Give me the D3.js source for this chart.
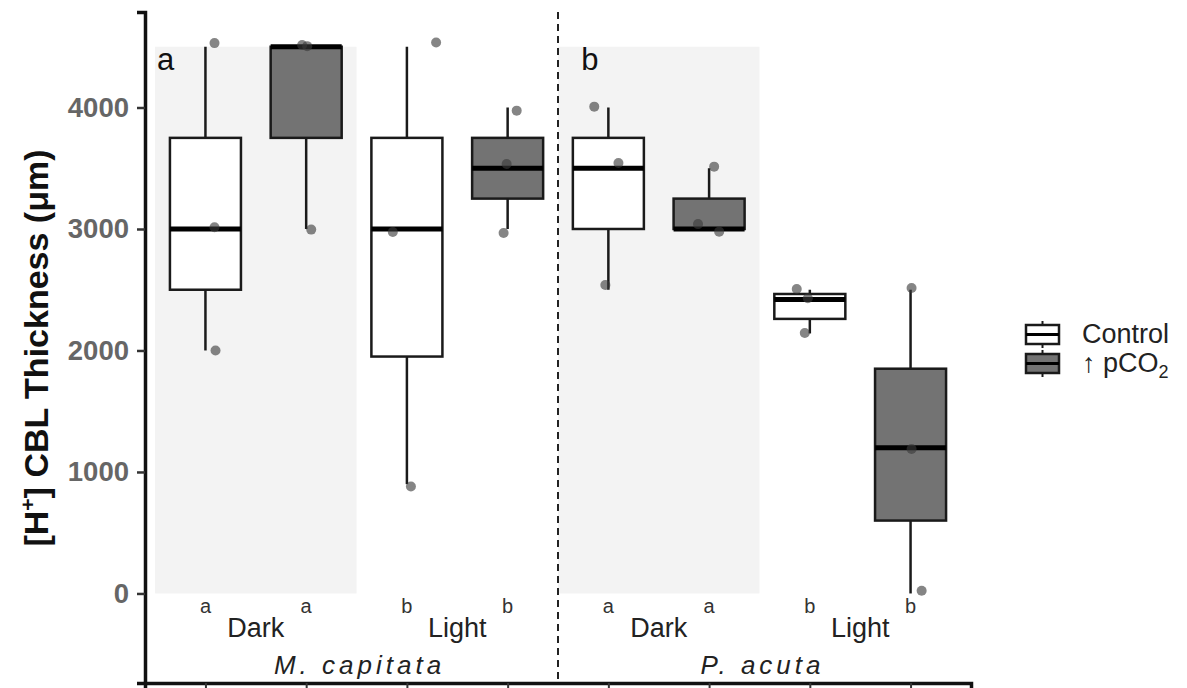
<!DOCTYPE html>
<html>
<head>
<meta charset="utf-8">
<script src="https://cdn.jsdelivr.net/npm/d3@7/dist/d3.min.js"></script>
<style>
  html, body { margin: 0; padding: 0; background: #fff; }
  svg { display: block; font-family: "Liberation Sans", Arial, Helvetica, sans-serif; }
</style>
</head>
<body>
<svg id="chart" width="1187" height="688"></svg>
<script>
// ---------------- data ----------------
const species = ["M. capitata", "P. acuta"];
const lightLevels = ["Dark", "Light", "Dark", "Light"];
const treatments = ["Control", "↑ pCO2"];
// 8 boxes, in order: species × light × treatment
const boxTreatment = [0, 1, 0, 1, 0, 1, 0, 1];
const boxLetters = ["a", "a", "b", "b", "a", "a", "b", "b"];
const boxMin    = [2000, 3000,  900, 3000, 2500, 3000, 2140,    0];
const boxQ1     = [2500, 3750, 1950, 3250, 3000, 3000, 2260,  600];
const boxMedian = [3000, 4500, 3000, 3500, 3500, 3000, 2420, 1200];
const boxQ3     = [3750, 4500, 3750, 3750, 3750, 3250, 2465, 1850];
const boxMax    = [4500, 4500, 4500, 4000, 4000, 3500, 2500, 2500];
// jittered raw points: box index, horizontal jitter (in box units), value
const pointBox    = [0, 0, 0, 1, 1, 1, 2, 2, 2, 3, 3, 3, 4, 4, 4, 5, 5, 5, 6, 6, 6, 7, 7, 7];
const pointJitter = [0.09, 0.09, 0.10, -0.04, 0.01, 0.05, 0.29, -0.14, 0.04, 0.09, -0.01, -0.04,
                     -0.14, 0.10, -0.03, 0.05, -0.11, 0.10, -0.13, -0.02, -0.05, 0.01, 0.01, 0.11];
const pointValue  = [4530, 3015, 2000, 4514, 4505, 2995, 4535, 2975, 880, 3974, 3535, 2967,
                     4007, 3543, 2539, 3513, 3040, 2978, 2506, 2430, 2144, 2514, 1189, 23];
const yTicks = [0, 1000, 2000, 3000, 4000];
const panelLabels = ["a", "b"];
const panelLabelX = [-0.48, 3.73];
const shadeFrom = [-0.5, 3.5];
const shadeTo = [1.5, 5.5];
const shadeTop = 4500;

// ---------------- layout ----------------
const svg = d3.select("#chart");
const x = d3.scaleLinear().domain([-0.6, 7.6]).range([145, 971]);
const y = d3.scaleLinear().domain([-737, 4786]).range([683, 12]);
const boxW = 0.705;
const fills = ["#ffffff", "#737373"];

// shaded backgrounds
svg.append("g").selectAll("rect").data(shadeFrom).join("rect")
  .attr("x", (d) => x(d))
  .attr("width", (d, i) => x(shadeTo[i]) - x(d))
  .attr("y", y(shadeTop))
  .attr("height", y(0) - y(shadeTop))
  .attr("fill", "#f3f3f3");

// dashed separator
svg.append("line")
  .attr("x1", x(3.5)).attr("x2", x(3.5))
  .attr("y1", y.range()[1]).attr("y2", y.range()[0])
  .attr("stroke", "#222").attr("stroke-width", 2)
  .attr("stroke-dasharray", "7,5");

// panel labels
svg.append("g").selectAll("text").data(panelLabels).join("text")
  .attr("x", (d, i) => x(panelLabelX[i]))
  .attr("y", 70)
  .attr("font-size", 31)
  .attr("fill", "#111")
  .text((d) => d);

// boxes
const idx = d3.range(boxMin.length);
const gb = svg.append("g");
idx.forEach((i) => {
  const cx = x(i);
  const hw = (x(boxW) - x(0)) / 2;
  gb.append("line").attr("x1", cx).attr("x2", cx)
    .attr("y1", y(boxQ3[i])).attr("y2", y(boxMax[i]))
    .attr("stroke", "#1a1a1a").attr("stroke-width", 2.5);
  gb.append("line").attr("x1", cx).attr("x2", cx)
    .attr("y1", y(boxQ1[i])).attr("y2", y(boxMin[i]))
    .attr("stroke", "#1a1a1a").attr("stroke-width", 2.5);
  gb.append("rect")
    .attr("x", cx - hw).attr("width", hw * 2)
    .attr("y", y(boxQ3[i])).attr("height", Math.max(0.5, y(boxQ1[i]) - y(boxQ3[i])))
    .attr("fill", fills[boxTreatment[i]])
    .attr("stroke", "#1a1a1a").attr("stroke-width", 2.5);
  gb.append("line").attr("x1", cx - hw).attr("x2", cx + hw)
    .attr("y1", y(boxMedian[i])).attr("y2", y(boxMedian[i]))
    .attr("stroke", "#000").attr("stroke-width", 5);
});

// points
svg.append("g").selectAll("circle").data(pointValue).join("circle")
  .attr("cx", (d, i) => x(pointBox[i] + pointJitter[i]))
  .attr("cy", (d) => y(d))
  .attr("r", 5)
  .attr("fill", "#3a3a3a").attr("fill-opacity", 0.62);

// axes
const yAxis = d3.axisLeft(y).tickValues(yTicks).tickSize(8).tickPadding(8).tickFormat(d3.format("d"));
const gy = svg.append("g").attr("transform", `translate(${x.range()[0]},0)`).call(yAxis);
gy.select(".domain").attr("stroke", "#111").attr("stroke-width", 3.5);
gy.selectAll(".tick line").attr("stroke", "#333").attr("stroke-width", 2.5);
gy.selectAll(".tick text").attr("font-size", 27.5).attr("font-weight", "bold")
  .attr("fill", "#666").attr("font-family", "Liberation Sans, Arial, sans-serif");

const xAxis = d3.axisBottom(x).tickValues(idx).tickSize(6).tickFormat("");
const gx = svg.append("g").attr("transform", `translate(0,${y.range()[0]})`).call(xAxis);
gx.select(".domain").attr("stroke", "#111").attr("stroke-width", 3.5);
gx.selectAll(".tick line").attr("stroke", "#333").attr("stroke-width", 2);

// significance letters
svg.append("g").selectAll("text").data(boxLetters).join("text")
  .attr("x", (d, i) => x(i)).attr("y", 613)
  .attr("text-anchor", "middle").attr("font-size", 20).attr("fill", "#333")
  .text((d) => d);

// Dark / Light
svg.append("g").selectAll("text").data(lightLevels).join("text")
  .attr("x", (d, i) => x(i * 2 + 0.5)).attr("y", 637)
  .attr("text-anchor", "middle").attr("font-size", 27).attr("fill", "#222")
  .text((d) => d);

// species
svg.append("g").selectAll("text").data(species).join("text")
  .attr("x", (d, i) => x(i * 4 + 1.5) + 3).attr("y", 674)
  .attr("text-anchor", "middle").attr("font-size", 26).attr("font-style", "italic")
  .attr("letter-spacing", 4).attr("fill", "#222")
  .text((d) => d);

// y title
const yt = svg.append("text")
  .attr("transform", "translate(48,348) rotate(-90)")
  .attr("text-anchor", "middle").attr("font-size", 34).attr("font-weight", "bold").attr("fill", "#111");
yt.append("tspan").text("[H");
yt.append("tspan").attr("font-size", 21).attr("dy", -13).text("+");
yt.append("tspan").attr("dy", 13).text("] CBL Thickness (μm)");

// legend
const lg = svg.append("g");
treatments.forEach((t, i) => {
  const top = 325 + i * 29;
  const kx = 1026, kw = 33, kh = 19;
  lg.append("line").attr("x1", kx + kw / 2).attr("x2", kx + kw / 2)
    .attr("y1", top - 4).attr("y2", top + kh + 4)
    .attr("stroke", "#1a1a1a").attr("stroke-width", 2);
  lg.append("rect").attr("x", kx).attr("y", top).attr("width", kw).attr("height", kh)
    .attr("fill", fills[i]).attr("stroke", "#1a1a1a").attr("stroke-width", 2.5);
  lg.append("line").attr("x1", kx).attr("x2", kx + kw)
    .attr("y1", top + kh / 2).attr("y2", top + kh / 2)
    .attr("stroke", "#000").attr("stroke-width", 3);
  const tx = lg.append("text").attr("x", 1082).attr("y", top + 18)
    .attr("font-size", 27).attr("fill", "#222");
  if (t.endsWith("2")) {
    tx.append("tspan").text(t.slice(0, -1));
    tx.append("tspan").attr("font-size", 18).attr("dy", 6).text("2");
  } else {
    tx.text(t);
  }
});
</script>
</body>
</html>
